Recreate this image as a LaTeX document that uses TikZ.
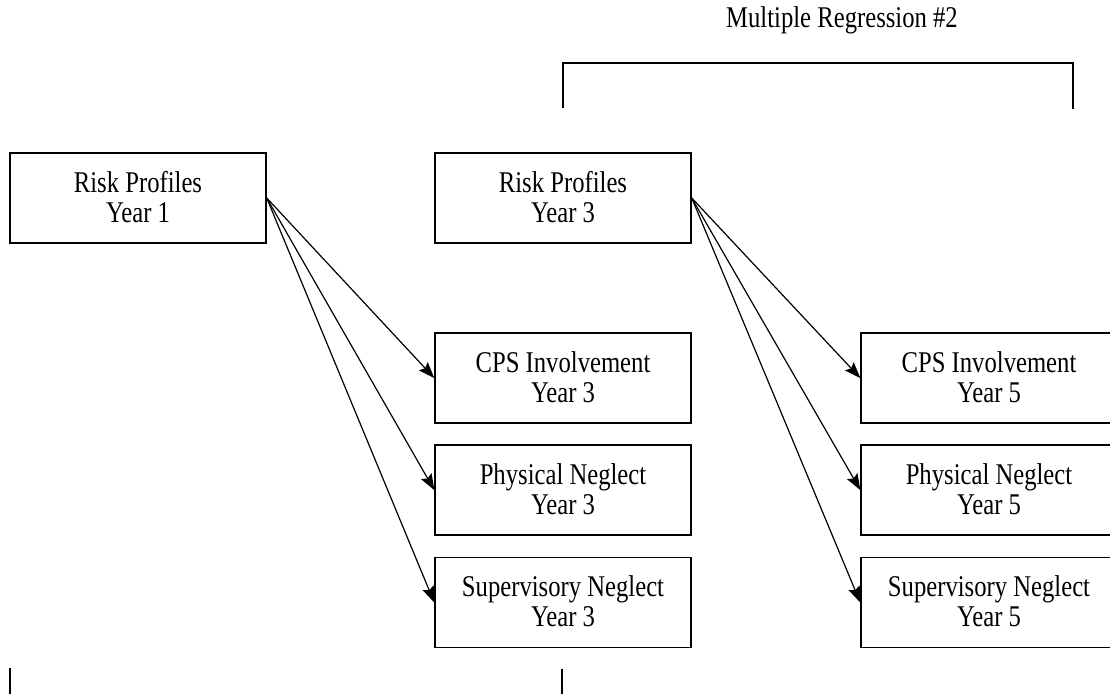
\documentclass[tikz,border=0pt]{standalone}
\usepackage{fontspec}
\setmainfont{Liberation Serif}
\usetikzlibrary{arrows.meta}
\newcommand{\twol}[2]{\raisebox{-2pt}[\height][\depth]{\scalebox{1}[1.22]{\begin{tabular}{@{}c@{}}#1\\[-1.5pt]#2\end{tabular}}}}
\tikzset{
  box/.style={draw, line width=1.1pt, minimum width=192pt, minimum height=67.5pt, inner sep=0pt, align=center, font=\fontsize{18.5}{20}\selectfont},
  conn/.style={line width=0.9pt, -{Stealth[length=12pt,width=9pt,inset=2pt]}},
  brk/.style={line width=1.1pt},
  ttl/.style={font=\fontsize{18.5}{22}\selectfont}
}
\begin{document}
\begin{tikzpicture}[x=0.75pt,y=-0.75pt]
\useasboundingbox (0,0) rectangle (1110,694);
% left column
\node[box] (r1) at (138,198) {\twol{Risk Profiles}{Year 1}};
% middle column
\node[box] (r3) at (563,198) {\twol{Risk Profiles}{Year 3}};
\node[box] (c3) at (563,378) {\twol{CPS Involvement}{Year 3}};
\node[box] (p3) at (563,490) {\twol{Physical Neglect}{Year 3}};
\node[box] (s3) at (563,602.5) {\twol{Supervisory Neglect}{Year 3}};
% right column
\node[box] (c5) at (989,378) {\twol{CPS Involvement}{Year 5}};
\node[box] (p5) at (989,490) {\twol{Physical Neglect}{Year 5}};
\node[box] (s5) at (989,602.5) {\twol{Supervisory Neglect}{Year 5}};
% arrows
\draw[conn] (r1.east) -- (c3.west);
\draw[conn] (r1.east) -- (p3.west);
\draw[conn] (r1.east) -- (s3.west);
\draw[conn] (r3.east) -- (c5.west);
\draw[conn] (r3.east) -- (p5.west);
\draw[conn] (r3.east) -- (s5.west);
% bracket and title
\node[ttl] (t2) at (842,20) {\scalebox{1}[1.22]{Multiple Regression \#2}};
\coordinate (bl) at (563,108);
\coordinate (blt) at (563,63);
\coordinate (brt) at (1073,63);
\coordinate (br) at (1073,109);
\draw[brk] (bl) -- (blt) -- (brt) -- (br);
% bottom partial bracket
\coordinate (b1a) at (10,668);
\coordinate (b1b) at (10,694);
\coordinate (b2a) at (562,669);
\coordinate (b2b) at (562,694);
\draw[brk] (b1a) -- (b1b);
\draw[brk] (b2a) -- (b2b);
\end{tikzpicture}
\end{document}
